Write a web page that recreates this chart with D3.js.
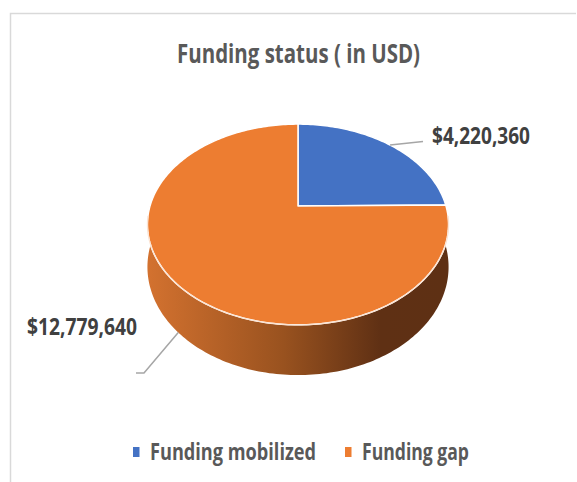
<!DOCTYPE html>
<html lang="en">
<head>
    <meta charset="UTF-8">
    <title>Funding status</title>
    <script src="https://cdnjs.cloudflare.com/ajax/libs/d3/7.8.5/d3.min.js"></script>
    <style>
        body {
            margin: 0;
            background-color: white;
        }
        text {
            font-family: "Open Sans", "DejaVu Sans", sans-serif;
        }
    </style>
</head>
<body>
    <svg id="chart"></svg>

    <script>
        // Data
        const categories = ["Funding mobilized", "Funding gap"];
        const values = [4220360, 12779640];
        const colors = ["#4472C4", "#ED7D31"];
        const valueLabels = ["$4,220,360", "$12,779,640"];

        // Layout
        const width = 577;
        const height = 482;
        const cx = 298, cy = 206;     // projected pie centre
        const R = 148;                // horizontal radius
        const A = 97;                 // vertical squash
        const k = 0.184;              // perspective strength
        const depth = 41;             // thickness of the pie

        const svg = d3.select("#chart")
            .attr("width", width)
            .attr("height", height);

        // chart frame (only left and top edges show)
        svg.append("path")
            .attr("d", "M10.5,482 V13.5 H576")
            .attr("fill", "none")
            .attr("stroke", "#d9d9d9")
            .attr("stroke-width", 1.5);

        // project an angle (clockwise from 12 o'clock) on the tilted disc
        function proj(a, r, drop) {
            const u = r * Math.sin(a);
            const v = -r * Math.cos(a);
            const s = 1 / (1 - k * v);
            return [cx + R * u * s, cy + A * v * s + drop * s];
        }

        function arcPoints(a0, a1, drop) {
            const n = Math.max(2, Math.ceil(Math.abs(a1 - a0) / 0.02));
            return d3.range(n + 1).map(i => proj(a0 + (a1 - a0) * i / n, 1, drop));
        }

        const pie = d3.pie().sort(null).startAngle(0).endAngle(2 * Math.PI);
        const slices = pie(values);
        const line = d3.line();

        // side gradient
        const defs = svg.append("defs");
        const grad = defs.append("linearGradient")
            .attr("id", "sideGrad")
            .attr("gradientUnits", "userSpaceOnUse")
            .attr("x1", cx - R).attr("x2", cx + R)
            .attr("y1", 0).attr("y2", 0);
        grad.append("stop").attr("offset", "0%").attr("stop-color", "#d2712f");
        grad.append("stop").attr("offset", "45%").attr("stop-color", "#99521f");
        grad.append("stop").attr("offset", "78%").attr("stop-color", "#5f3014");
        grad.append("stop").attr("offset", "100%").attr("stop-color", "#5e3014");

        // visible side walls (front half of each slice)
        const frontStart = Math.PI / 2, frontEnd = 3 * Math.PI / 2;
        slices.forEach((d, i) => {
            const a0 = Math.max(d.startAngle, frontStart);
            const a1 = Math.min(d.endAngle, frontEnd);
            if (a1 <= a0) return;
            const top = arcPoints(a0, a1, 0);
            const bottom = arcPoints(a1, a0, depth);
            svg.append("path")
                .attr("d", line(top.concat(bottom)) + "Z")
                .attr("fill", i === 1 ? "url(#sideGrad)" : d3.color(colors[i]).darker(1));
        });

        // top faces
        slices.forEach((d, i) => {
            const pts = [proj(0, 0, 0)].concat(arcPoints(d.startAngle, d.endAngle, 0));
            svg.append("path")
                .attr("d", line(pts) + "Z")
                .attr("fill", colors[i])
                .attr("stroke", "white")
                .attr("stroke-width", 1.5)
                .attr("stroke-linejoin", "round");
        });

        // light rim along the front edge
        svg.append("path")
            .attr("d", line(arcPoints(frontStart + 0.1, frontEnd - 0.1, 0)))
            .attr("fill", "none")
            .attr("stroke", "#fbe3d2")
            .attr("stroke-width", 1.2);

        // data labels with leader lines
        const mid0 = (slices[0].startAngle + slices[0].endAngle) / 2;
        const mid1 = (slices[1].startAngle + slices[1].endAngle) / 2;
        const p0 = proj(mid0, 1, 0);
        const p1 = proj(mid1, 1, depth);

        svg.append("path")
            .attr("d", line([p0, [423, 141.5]]))
            .attr("fill", "none")
            .attr("stroke", "#a6a6a6")
            .attr("stroke-width", 1.5);
        svg.append("path")
            .attr("d", line([p1, [144, 373], [136, 373]]))
            .attr("fill", "none")
            .attr("stroke", "#a6a6a6")
            .attr("stroke-width", 1.5);

        svg.append("text")
            .attr("x", 432).attr("y", 144)
            .attr("font-size", 24).attr("font-weight", 700)
            .attr("fill", "#404040")
            .attr("textLength", 98).attr("lengthAdjust", "spacingAndGlyphs")
            .text(valueLabels[0]);
        svg.append("text")
            .attr("x", 27).attr("y", 335)
            .attr("font-size", 24).attr("font-weight", 700)
            .attr("fill", "#404040")
            .attr("textLength", 110).attr("lengthAdjust", "spacingAndGlyphs")
            .text(valueLabels[1]);

        // title
        svg.append("text")
            .attr("x", 177).attr("y", 63)
            .attr("font-size", 27).attr("font-weight", 700)
            .attr("fill", "#595959")
            .attr("textLength", 243).attr("lengthAdjust", "spacingAndGlyphs")
            .text("Funding status ( in USD)");

        // legend
        const legendX = [133, 345];
        const legendW = [166, 107];
        categories.forEach((c, i) => {
            svg.append("rect")
                .attr("x", legendX[i]).attr("y", 447)
                .attr("width", 6.5).attr("height", 10)
                .attr("fill", colors[i]);
            svg.append("text")
                .attr("x", legendX[i] + 17).attr("y", 460)
                .attr("font-size", 24).attr("font-weight", 700)
                .attr("fill", "#595959")
                .attr("textLength", legendW[i]).attr("lengthAdjust", "spacingAndGlyphs")
                .text(c);
        });
    </script>
</body>
</html>
